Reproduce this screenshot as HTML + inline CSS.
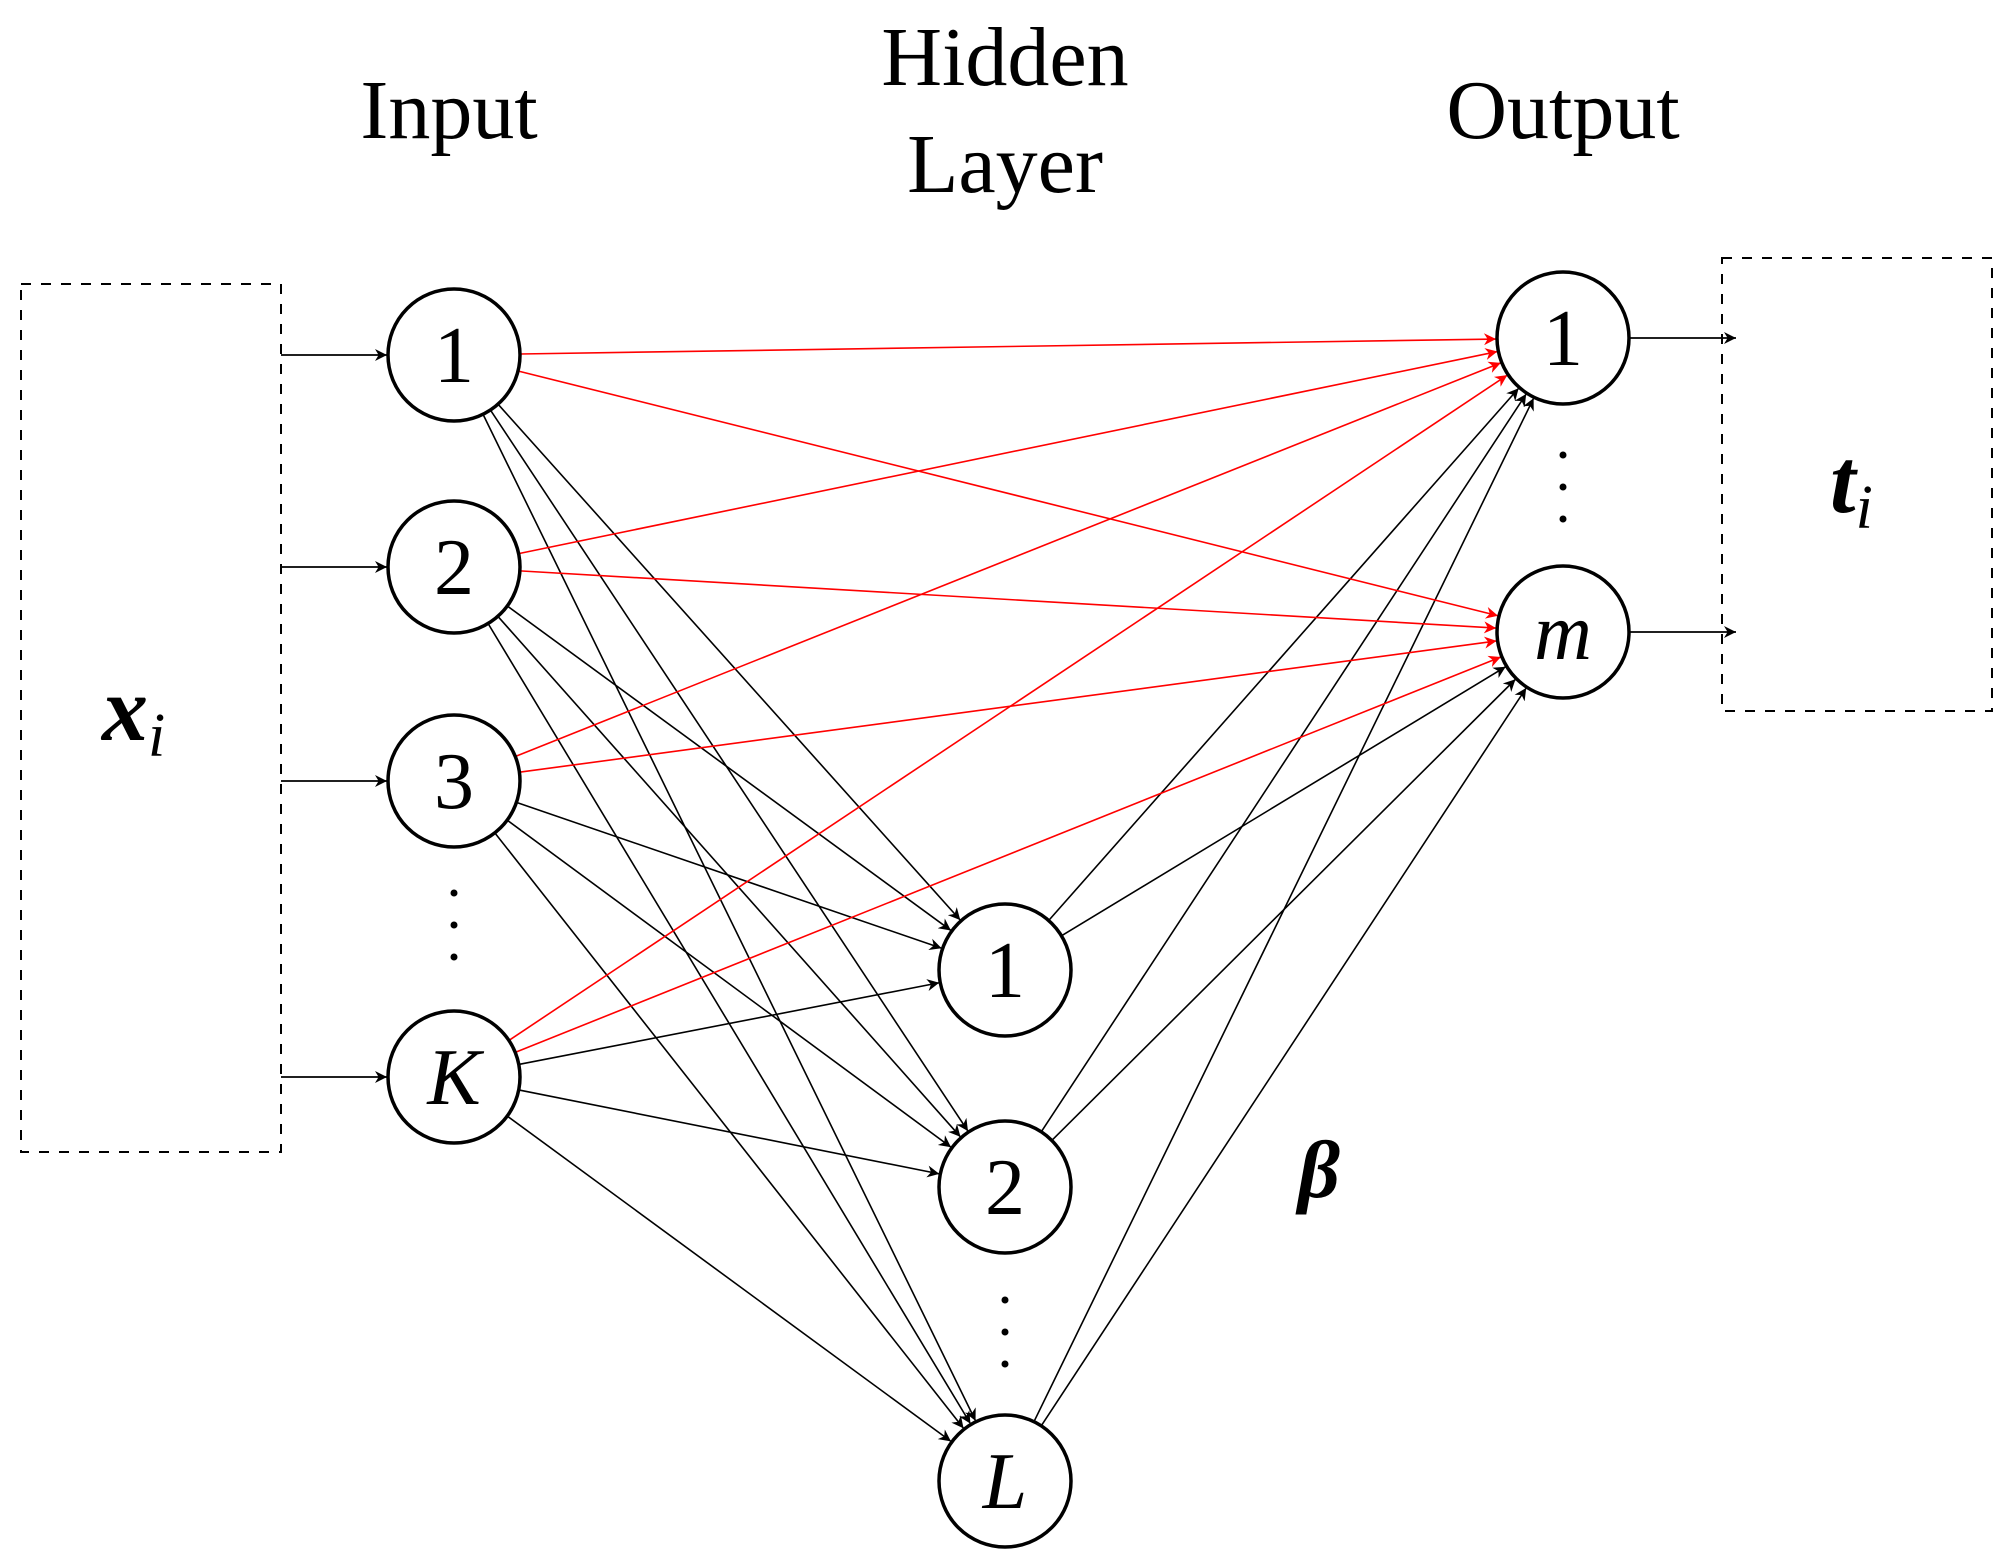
<!DOCTYPE html>
<html><head><meta charset="utf-8"><style>
html,body{margin:0;padding:0;background:#fff;}
svg{display:block;}
text{font-family:"Liberation Serif",serif;fill:#000;}
</style></head><body>
<svg id="s" width="2012" height="1568" viewBox="0 0 2012 1568" xmlns="http://www.w3.org/2000/svg">
<defs>
<marker id="ab" viewBox="0 0 10 10" refX="10" refY="5" markerWidth="16" markerHeight="12" markerUnits="userSpaceOnUse" orient="auto"><path d="M0,0 L10,5 L0,10 L3,5 Z" fill="#000"/></marker>
<marker id="ar" viewBox="0 0 10 10" refX="10" refY="5" markerWidth="16" markerHeight="12" markerUnits="userSpaceOnUse" orient="auto"><path d="M0,0 L10,5 L0,10 L3,5 Z" fill="#f00"/></marker>
<marker id="ab2" viewBox="0 0 10 10" refX="10" refY="5" markerWidth="16" markerHeight="12" markerUnits="userSpaceOnUse" orient="auto"><path d="M0,0 L10,5 L0,10 L3,5 Z" fill="#000"/></marker>
</defs>
<rect x="21" y="284" width="260" height="868" fill="none" stroke="#000" stroke-width="2" stroke-dasharray="10,10"/>
<rect x="1722" y="258" width="270" height="453" fill="none" stroke="#000" stroke-width="2" stroke-dasharray="10,10"/>
<g id="edges"></g>
<g id="nodes"></g>
<text x="449" y="138" font-size="84" text-anchor="middle">Input</text>
<text x="1005" y="85" font-size="84" text-anchor="middle">Hidden</text>
<text x="1005" y="192" font-size="84" text-anchor="middle">Layer</text>
<text x="1563" y="138" font-size="84" text-anchor="middle">Output</text>
<text x="102" y="740" font-size="92" font-weight="bold" font-style="italic">x<tspan font-size="62" font-weight="normal" dy="16">i</tspan></text>
<text x="1830" y="512" font-size="92" font-weight="bold" font-style="italic">t<tspan font-size="62" font-weight="normal" dy="16">i</tspan></text>
<text x="1298" y="1197" font-size="82" font-weight="bold" font-style="italic">β</text>
<g fill="#000">
<circle cx="454" cy="893" r="3.5"/><circle cx="454" cy="925" r="3.5"/><circle cx="454" cy="957" r="3.5"/>
<circle cx="1005" cy="1300" r="3.5"/><circle cx="1005" cy="1332" r="3.5"/><circle cx="1005" cy="1364" r="3.5"/>
<circle cx="1563" cy="455" r="3.5"/><circle cx="1563" cy="487" r="3.5"/><circle cx="1563" cy="519" r="3.5"/>
</g>
</svg>
<script>
var R=66,NS="http://www.w3.org/2000/svg";
var inp=[[454,355,"1",0],[454,567,"2",0],[454,781,"3",0],[454,1077,"K",1]];
var hid=[[1005,970,"1",0],[1005,1187,"2",0],[1005,1481,"L",1]];
var out=[[1563,338,"1",0],[1563,632,"m",1]];
var E=document.getElementById("edges"),N=document.getElementById("nodes");
function line(x1,y1,x2,y2,c,m,sw){var l=document.createElementNS(NS,"line");l.setAttribute("x1",x1);l.setAttribute("y1",y1);l.setAttribute("x2",x2);l.setAttribute("y2",y2);l.setAttribute("stroke",c);l.setAttribute("stroke-width",sw||1.6);l.setAttribute("marker-end","url(#"+m+")");E.appendChild(l);}
function edge(a,b,c,m){var dx=b[0]-a[0],dy=b[1]-a[1],d=Math.sqrt(dx*dx+dy*dy),ux=dx/d,uy=dy/d;line(a[0]+ux*R,a[1]+uy*R,b[0]-ux*(R+1),b[1]-uy*(R+1),c,m);}
inp.forEach(function(a){hid.forEach(function(b){edge(a,b,"#000","ab");});});
hid.forEach(function(a){out.forEach(function(b){edge(a,b,"#000","ab");});});
inp.forEach(function(a){out.forEach(function(b){edge(a,b,"#f00","ar");});});
inp.forEach(function(a){line(281,a[1],a[0]-R-1,a[1],"#000","ab2",1.8);});
out.forEach(function(a){line(a[0]+R,a[1],1736,a[1],"#000","ab2",1.8);});
[inp,hid,out].forEach(function(g){g.forEach(function(n){var c=document.createElementNS(NS,"circle");c.setAttribute("cx",n[0]);c.setAttribute("cy",n[1]);c.setAttribute("r",R);c.setAttribute("fill","#fff");c.setAttribute("stroke","#000");c.setAttribute("stroke-width",3.5);N.appendChild(c);var t=document.createElementNS(NS,"text");t.setAttribute("x",n[0]);t.setAttribute("y",n[1]+27);t.setAttribute("font-size",80);t.setAttribute("text-anchor","middle");if(n[3])t.setAttribute("font-style","italic");t.textContent=n[2];N.appendChild(t);});});
</script>
</body></html>
